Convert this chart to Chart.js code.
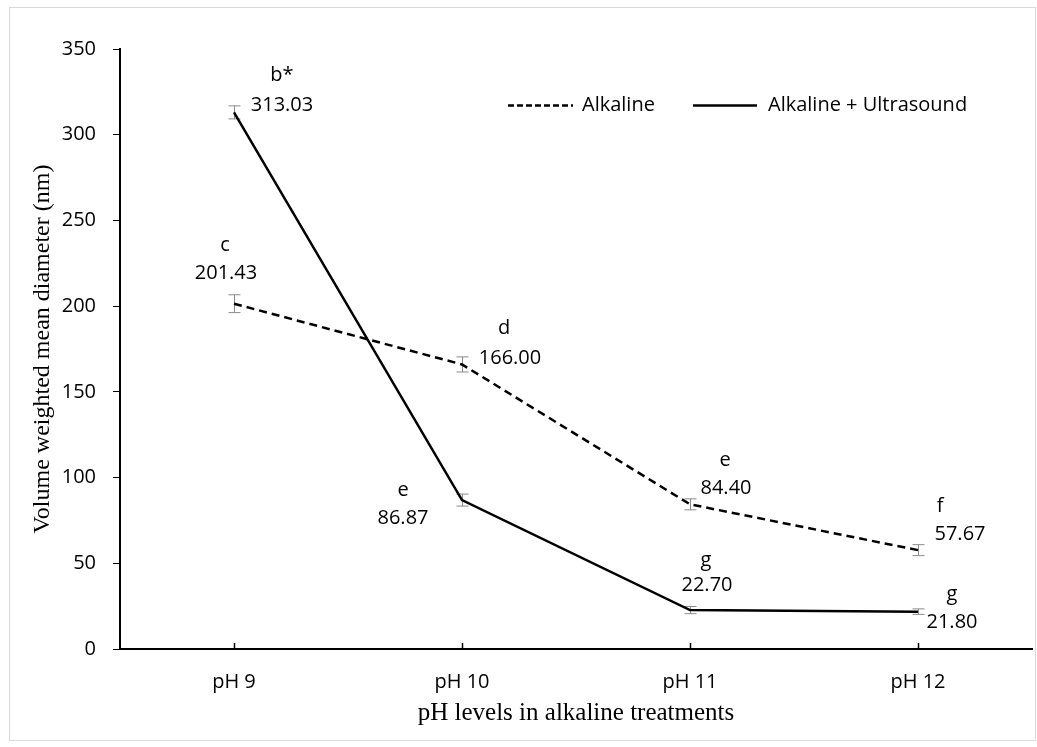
<!DOCTYPE html>
<html>
<head>
<meta charset="utf-8">
<script src="https://cdn.jsdelivr.net/npm/chart.js@4.4.0/dist/chart.umd.min.js"></script>
<style>
    html, body { margin: 0; padding: 0; background: #fff; }
    #wrap { position: relative; width: 1037px; height: 747px; }
</style>
</head>
<body>
<div id="wrap"><canvas id="grafico" width="1037" height="747"></canvas></div>
<script>
// Dados do gráfico
const categorias = ['pH 9', 'pH 10', 'pH 11', 'pH 12'];
const alcalino = [201.43, 166.00, 84.40, 57.67];
const alcalinoUltrassom = [313.03, 86.87, 22.70, 21.80];
const erroAlcalino = [5.2, 4.4, 3.2, 3.2];
const erroUltrassom = [3.8, 3.5, 2.1, 1.6];
const letrasAlcalino = ['c', 'd', 'e', 'f'];
const letrasUltrassom = ['b*', 'e', 'g', 'g'];
const rotuloAlcalino = 'Alkaline';
const rotuloUltrassom = 'Alkaline + Ultrasound';

// Deslocamentos dos rótulos (letra dx, dy, valor dx, dy) em relação ao ponto
const deslocAlcalino = [[-9, -58, -8, -30], [42, -36, 48, -6], [35, -44, 36, -16], [22, -44, 42, -16]];
const deslocUltrassom = [[48, -37, 48, -7], [-59, -10, -59, 18], [16, -50, 17, -25], [34, -17, 34, 11]];

const FONTE = '"Open Sans", "Noto Sans", sans-serif';
const FONTE_TITULO = '"Liberation Serif", "DejaVu Serif", serif';

// Plugin para moldura, barras de erro, rótulos e legenda
const pluginExtras = {
    id: 'extras',
    beforeDraw(chart) {
        const c = chart.ctx;
        c.save();
        c.strokeStyle = '#d9d9d9';
        c.lineWidth = 1;
        c.strokeRect(9.5, 7.5, 1026, 733);
        c.restore();
    },
    beforeDatasetsDraw(chart) {
        const c = chart.ctx;
        const x = chart.scales.x;
        const y = chart.scales.y;
        const series = [[alcalino, erroAlcalino], [alcalinoUltrassom, erroUltrassom]];
        c.save();
        c.strokeStyle = '#8a8a8a';
        c.lineWidth = 1;
        series.forEach(([valores, erros]) => {
            valores.forEach((v, i) => {
                const px = Math.round(x.getPixelForValue(i)) + 0.5;
                const yTop = y.getPixelForValue(v + erros[i]);
                const yBot = y.getPixelForValue(v - erros[i]);
                c.beginPath();
                c.moveTo(px, yTop); c.lineTo(px, yBot);
                c.moveTo(px - 6, yTop); c.lineTo(px + 6, yTop);
                c.moveTo(px - 6, yBot); c.lineTo(px + 6, yBot);
                c.stroke();
            });
        });
        c.restore();
    },
    afterDraw(chart) {
        const c = chart.ctx;
        const x = chart.scales.x;
        const y = chart.scales.y;
        const area = chart.chartArea;
        c.save();

        // marcas internas do eixo x
        c.strokeStyle = '#000';
        c.lineWidth = 1.5;
        x.ticks.forEach((t, i) => {
            const px = Math.round(x.getPixelForTick(i)) + 0.5;
            c.beginPath();
            c.moveTo(px, area.bottom);
            c.lineTo(px, area.bottom - 6);
            c.stroke();
        });

        // rótulos de dados
        c.fillStyle = '#000';
        c.font = '20px ' + FONTE;
        c.textAlign = 'center';
        c.textBaseline = 'middle';
        const grupos = [
            [alcalino, letrasAlcalino, deslocAlcalino],
            [alcalinoUltrassom, letrasUltrassom, deslocUltrassom]
        ];
        grupos.forEach(([valores, letras, desloc]) => {
            valores.forEach((v, i) => {
                const px = x.getPixelForValue(i);
                const py = y.getPixelForValue(v);
                const d = desloc[i];
                c.fillText(letras[i], px + d[0], py + d[1]);
                c.fillText(v.toFixed(2), px + d[2], py + d[3]);
            });
        });

        // legenda
        const ly = 105.5;
        c.lineWidth = 2.5;
        c.setLineDash([6, 3]);
        c.beginPath(); c.moveTo(508, ly); c.lineTo(573, ly); c.stroke();
        c.setLineDash([]);
        c.beginPath(); c.moveTo(693, ly); c.lineTo(757, ly); c.stroke();
        c.textAlign = 'left';
        c.fillText(rotuloAlcalino, 582, ly);
        c.fillText(rotuloUltrassom, 768, ly);
        c.restore();
    }
};

const ctx = document.getElementById('grafico').getContext('2d');
const grafico = new Chart(ctx, {
    type: 'line',
    data: {
        labels: categorias,
        datasets: [
            {
                label: rotuloAlcalino,
                data: alcalino,
                borderColor: '#000',
                borderWidth: 2.5,
                borderDash: [8, 5],
                pointRadius: 0,
                tension: 0,
                fill: false
            },
            {
                label: rotuloUltrassom,
                data: alcalinoUltrassom,
                borderColor: '#000',
                borderWidth: 2.5,
                pointRadius: 0,
                tension: 0,
                fill: false
            }
        ]
    },
    options: {
        responsive: false,
        animation: false,
        layout: { padding: { left: 28, right: 5, top: 49, bottom: 0 } },
        plugins: {
            legend: { display: false },
            tooltip: { enabled: false }
        },
        scales: {
            x: {
                type: 'category',
                offset: true,
                grid: { display: false, drawTicks: false },
                border: { color: '#000', width: 2 },
                ticks: { color: '#000', font: { family: FONTE, size: 20 }, padding: 21 },
                title: {
                    display: true,
                    text: 'pH levels in alkaline treatments',
                    color: '#000',
                    font: { family: FONTE_TITULO, size: 25 },
                    padding: { top: 0, bottom: 19 }
                },
                afterFit(scale) { scale.height = 98; }
            },
            y: {
                min: 0,
                max: 350,
                ticks: { stepSize: 50, color: '#000', font: { family: FONTE, size: 20 }, padding: 17 },
                grid: { drawOnChartArea: false, drawTicks: true, tickLength: 7, color: '#000', tickColor: '#000' },
                border: { color: '#000', width: 2 },
                title: {
                    display: true,
                    text: 'Volume weighted mean diameter (nm)',
                    color: '#000',
                    font: { family: FONTE_TITULO, size: 24 },
                    padding: { top: 0, bottom: 0 }
                },
                afterFit(scale) { scale.width = 92; }
            }
        }
    },
    plugins: [pluginExtras]
});
</script>
</body>
</html>
